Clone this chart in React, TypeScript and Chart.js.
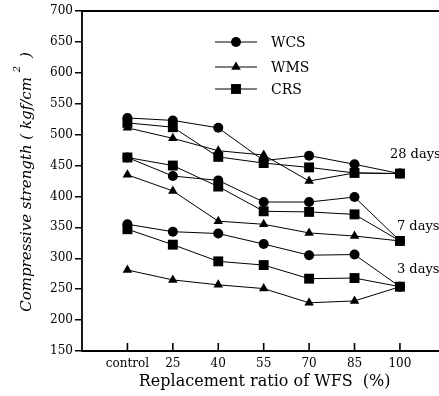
import React, { useEffect, useRef } from 'react';
import { Chart, registerables } from 'chart.js';

Chart.register(...registerables);

const categories = ['control', '25', '40', '55', '70', '85', '100'];
const materials = ['WCS', 'WMS', 'CRS'];
const ages = ['28 days', '7 days', '3 days'];

const wcs28 = [527, 523, 511, 458, 466, 452, 437];
const wms28 = [511, 494, 474, 467, 425, 438, 437];
const crs28 = [519, 512, 464, 454, 447, 438, 437];
const wcs7 = [463, 433, 426, 391, 391, 399, 328];
const wms7 = [435, 409, 360, 355, 341, 336, 328];
const crs7 = [463, 450, 416, 376, 375, 371, 328];
const wcs3 = [355, 343, 340, 323, 305, 306, 254];
const wms3 = [281, 265, 257, 251, 228, 231, 254];
const crs3 = [347, 322, 295, 289, 267, 268, 254];

const ageLabelValues = [468, 352, 282];

const yMin = 150;
const yMax = 700;
const yStep = 50;

const xTitle = 'Replacement ratio of WFS  (%)';
const yTitleMain = 'Compressive strength ( kgf/cm';
const yTitleSup = '2';
const yTitleEnd = ' )';

const FONT = '"DejaVu Serif", "Liberation Serif", serif';

const seriesByAge = [
  [wcs28, wms28, crs28],
  [wcs7, wms7, crs7],
  [wcs3, wms3, crs3],
];

const markerStyle: Record<string, { style: any; radius: number }> = {
  WCS: { style: 'circle', radius: 5 },
  WMS: { style: 'triangle', radius: 5.5 },
  CRS: { style: 'rect', radius: 7 },
};

function drawMarker(ctx: CanvasRenderingContext2D, style: string, x: number, y: number, r: number) {
  ctx.beginPath();
  if (style === 'circle') {
    ctx.arc(x, y, r, 0, Math.PI * 2);
  } else if (style === 'triangle') {
    ctx.moveTo(x, y - r);
    ctx.lineTo(x + r * Math.sin((2 * Math.PI) / 3), y - r * Math.cos((2 * Math.PI) / 3));
    ctx.lineTo(x + r * Math.sin((4 * Math.PI) / 3), y - r * Math.cos((4 * Math.PI) / 3));
    ctx.closePath();
  } else {
    const s = Math.SQRT1_2 * r;
    ctx.rect(x - s, y - s, 2 * s, 2 * s);
  }
  ctx.fill();
}

const framePlugin = {
  id: 'frame',
  beforeDatasetsDraw(chart: any) {
    const { ctx, chartArea } = chart;
    const { left, top, bottom } = chartArea;
    const xs = chart.scales.x;
    ctx.save();
    ctx.strokeStyle = '#000';
    ctx.lineWidth = 1.8;
    ctx.beginPath();
    ctx.moveTo(chart.width, top);
    ctx.lineTo(left, top);
    ctx.lineTo(left, bottom);
    ctx.lineTo(chart.width, bottom);
    ctx.stroke();
    ctx.lineWidth = 1.6;
    categories.forEach((_, i) => {
      const px = xs.getPixelForValue(i);
      ctx.beginPath();
      ctx.moveTo(px, bottom);
      ctx.lineTo(px, bottom - 8);
      ctx.stroke();
    });
    ctx.restore();
  },
};

const decorPlugin = {
  id: 'decor',
  afterDraw(chart: any) {
    const { ctx, chartArea } = chart;
    const xs = chart.scales.x;
    const ys = chart.scales.y;
    ctx.save();
    ctx.fillStyle = '#000';
    ctx.strokeStyle = '#000';

    // legend
    const rowOffsets = [31, 56, 78];
    materials.forEach((m, i) => {
      const y = chartArea.top + rowOffsets[i];
      const x0 = chartArea.left + 133;
      const x1 = chartArea.left + 175;
      ctx.lineWidth = 1;
      ctx.beginPath();
      ctx.moveTo(x0, y);
      ctx.lineTo(x1, y);
      ctx.stroke();
      drawMarker(ctx, markerStyle[m].style, (x0 + x1) / 2, y, markerStyle[m].radius);
      ctx.font = `14px ${FONT}`;
      ctx.textAlign = 'left';
      ctx.textBaseline = 'middle';
      ctx.fillText(m, chartArea.left + 189, y + 1);
    });

    // age labels
    const offsets = [-10, -3, -3];
    ages.forEach((a, i) => {
      const x = xs.getPixelForValue(categories.length - 1) + offsets[i];
      const y = ys.getPixelForValue(ageLabelValues[i]);
      ctx.font = `13px ${FONT}`;
      ctx.textAlign = 'left';
      ctx.textBaseline = 'middle';
      ctx.fillText(a, x, y);
    });

    // x title
    ctx.font = `16px ${FONT}`;
    ctx.textAlign = 'center';
    ctx.textBaseline = 'middle';
    ctx.fillText(xTitle, (xs.getPixelForValue(0) + xs.getPixelForValue(6)) / 2 + 1, chartArea.bottom + 31);

    // y title (rotated)
    ctx.save();
    const cx = 27;
    const cy = 182;
    ctx.translate(cx, cy);
    ctx.rotate(-Math.PI / 2);
    ctx.font = `italic 15px ${FONT}`;
    const wMain = ctx.measureText(yTitleMain + ' ').width;
    ctx.font = `italic 10px ${FONT}`;
    const wSup = ctx.measureText(yTitleSup + ' ').width;
    ctx.font = `italic 15px ${FONT}`;
    const wEnd = ctx.measureText(yTitleEnd).width;
    const total = wMain + wSup + wEnd;
    let px = -total / 2;
    ctx.textAlign = 'left';
    ctx.textBaseline = 'middle';
    ctx.fillText(yTitleMain + ' ', px, 0);
    px += wMain;
    ctx.font = `italic 10px ${FONT}`;
    ctx.fillText(yTitleSup, px, -10);
    px += wSup;
    ctx.font = `italic 15px ${FONT}`;
    ctx.fillText(yTitleEnd, px, 0);
    ctx.restore();

    ctx.restore();
  },
};

export default function App() {
  const canvasRef = useRef<HTMLCanvasElement | null>(null);

  useEffect(() => {
    if (!canvasRef.current) return;
    const datasets: any[] = [];
    seriesByAge.forEach((group, ai) => {
      group.forEach((arr, mi) => {
        const m = materials[mi];
        datasets.push({
          label: `${m} ${ages[ai]}`,
          data: categories.map((_, i) => ({ x: i, y: arr[i] })),
          borderColor: '#000',
          backgroundColor: '#000',
          borderWidth: 1,
          pointStyle: markerStyle[m].style,
          pointRadius: markerStyle[m].radius,
          pointBorderWidth: 0,
          pointBackgroundColor: '#000',
          showLine: true,
          tension: 0,
        });
      });
    });

    const chart = new Chart(canvasRef.current, {
      type: 'scatter',
      data: { datasets },
      options: {
        animation: false,
        responsive: false,
        layout: { autoPadding: false, padding: { top: 11, right: 0, left: 0, bottom: 0 } },
        plugins: {
          legend: { display: false },
          tooltip: { enabled: false },
        },
        scales: {
          x: {
            type: 'linear',
            min: -1,
            max: 6.86,
            afterBuildTicks: (scale: any) => {
              scale.ticks = categories.map((_, i) => ({ value: i }));
            },
            afterFit: (scale: any) => {
              scale.height = 45;
              scale.paddingLeft = 0;
              scale.paddingRight = 0;
            },
            ticks: {
              callback: (v: any) => categories[v as number] ?? '',
              color: '#000',
              font: { family: FONT, size: 12 },
              padding: 6,
              maxRotation: 0,
              autoSkip: false,
            },
            grid: { display: false, drawTicks: false },
            border: { display: false },
          },
          y: {
            type: 'linear',
            min: yMin,
            max: yMax,
            afterFit: (scale: any) => {
              scale.width = 82;
              scale.paddingTop = 0;
              scale.paddingBottom = 0;
            },
            ticks: {
              stepSize: yStep,
              color: '#000',
              font: { family: FONT, size: 12 },
              padding: 2,
            },
            grid: {
              drawOnChartArea: false,
              drawTicks: true,
              tickLength: 7,
              color: '#000',
              lineWidth: 1.5,
            },
            border: { display: false },
          },
        },
      },
      plugins: [framePlugin, decorPlugin],
    });
    return () => chart.destroy();
  }, []);

  return (
    <div style={{ position: 'absolute', left: 0, top: 0, width: 439, height: 396, background: '#fff' }}>
      <canvas ref={canvasRef} width={439} height={396} style={{ display: 'block' }} />
    </div>
  );
}
